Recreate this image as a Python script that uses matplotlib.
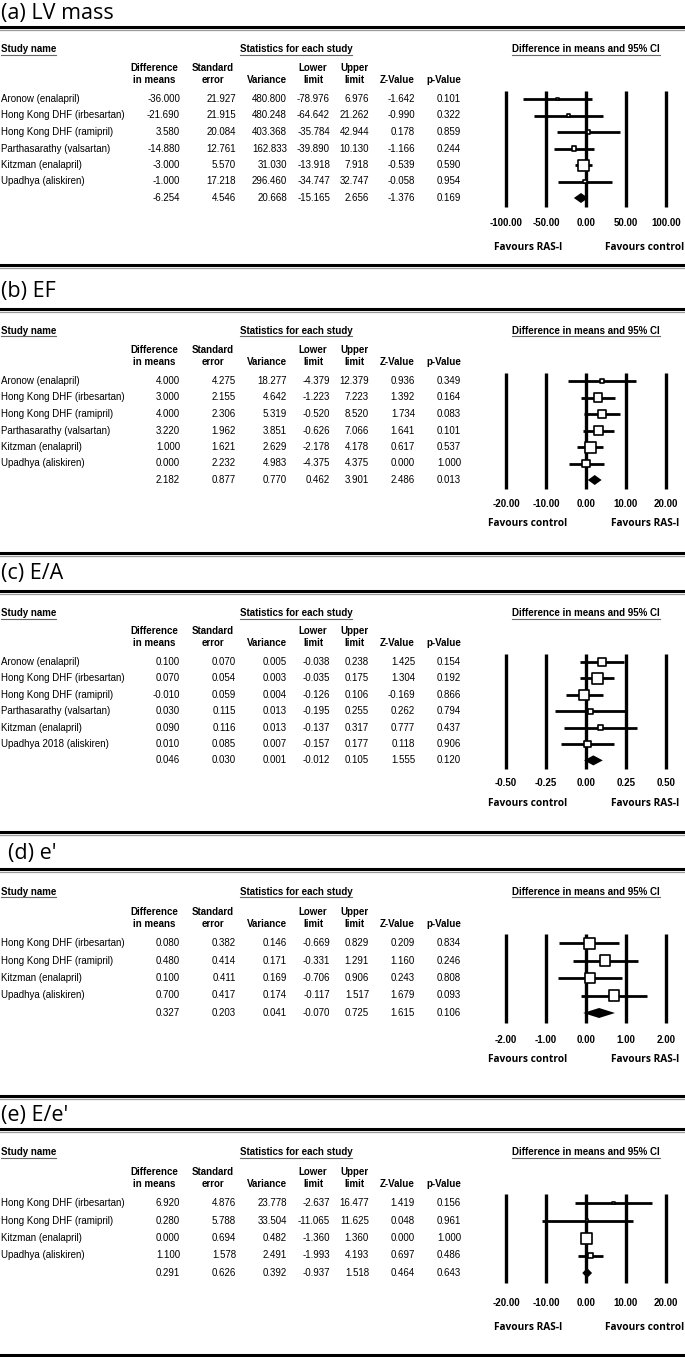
import matplotlib
matplotlib.use('Agg')
import matplotlib.pyplot as plt
from matplotlib.lines import Line2D
from matplotlib.transforms import blended_transform_factory

W, H = 685, 1357  # output size in pixels (dpi 100)

# ---- data -------------------------------------------------------------
# (a) LV mass  (last entry of each list = pooled estimate)
a_names = ['Aronow (enalapril)', 'Hong Kong DHF (irbesartan)', 'Hong Kong DHF (ramipril)',
           'Parthasarathy (valsartan)', 'Kitzman (enalapril)', 'Upadhya (aliskiren)', '']
a_diff = [-36.000, -21.690, 3.580, -14.880, -3.000, -1.000, -6.254]
a_se = [21.927, 21.915, 20.084, 12.761, 5.570, 17.218, 4.546]
a_var = [480.800, 480.248, 403.368, 162.833, 31.030, 296.460, 20.668]
a_lower = [-78.976, -64.642, -35.784, -39.890, -13.918, -34.747, -15.165]
a_upper = [6.976, 21.262, 42.944, 10.130, 7.918, 32.747, 2.656]
a_z = [-1.642, -0.990, 0.178, -1.166, -0.539, -0.058, -1.376]
a_p = [0.101, 0.322, 0.859, 0.244, 0.590, 0.954, 0.169]
a_ticks = [-100, -50, 0, 50, 100]
a_favours = ['Favours RAS-I', 'Favours control']

# (b) EF
b_names = ['Aronow (enalapril)', 'Hong Kong DHF (irbesartan)', 'Hong Kong DHF (ramipril)',
           'Parthasarathy (valsartan)', 'Kitzman (enalapril)', 'Upadhya (aliskiren)', '']
b_diff = [4.000, 3.000, 4.000, 3.220, 1.000, 0.000, 2.182]
b_se = [4.275, 2.155, 2.306, 1.962, 1.621, 2.232, 0.877]
b_var = [18.277, 4.642, 5.319, 3.851, 2.629, 4.983, 0.770]
b_lower = [-4.379, -1.223, -0.520, -0.626, -2.178, -4.375, 0.462]
b_upper = [12.379, 7.223, 8.520, 7.066, 4.178, 4.375, 3.901]
b_z = [0.936, 1.392, 1.734, 1.641, 0.617, 0.000, 2.486]
b_p = [0.349, 0.164, 0.083, 0.101, 0.537, 1.000, 0.013]
b_ticks = [-20, -10, 0, 10, 20]
b_favours = ['Favours control', 'Favours RAS-I']

# (c) E/A
c_names = ['Aronow (enalapril)', 'Hong Kong DHF (irbesartan)', 'Hong Kong DHF (ramipril)',
           'Parthasarathy (valsartan)', 'Kitzman (enalapril)', 'Upadhya 2018 (aliskiren)', '']
c_diff = [0.100, 0.070, -0.010, 0.030, 0.090, 0.010, 0.046]
c_se = [0.070, 0.054, 0.059, 0.115, 0.116, 0.085, 0.030]
c_var = [0.005, 0.003, 0.004, 0.013, 0.013, 0.007, 0.001]
c_lower = [-0.038, -0.035, -0.126, -0.195, -0.137, -0.157, -0.012]
c_upper = [0.238, 0.175, 0.106, 0.255, 0.317, 0.177, 0.105]
c_z = [1.425, 1.304, -0.169, 0.262, 0.777, 0.118, 1.555]
c_p = [0.154, 0.192, 0.866, 0.794, 0.437, 0.906, 0.120]
c_ticks = [-0.50, -0.25, 0.0, 0.25, 0.50]
c_favours = ['Favours control', 'Favours RAS-I']

# (d) e'
d_names = ['Hong Kong DHF (irbesartan)', 'Hong Kong DHF (ramipril)',
           'Kitzman (enalapril)', 'Upadhya (aliskiren)', '']
d_diff = [0.080, 0.480, 0.100, 0.700, 0.327]
d_se = [0.382, 0.414, 0.411, 0.417, 0.203]
d_var = [0.146, 0.171, 0.169, 0.174, 0.041]
d_lower = [-0.669, -0.331, -0.706, -0.117, -0.070]
d_upper = [0.829, 1.291, 0.906, 1.517, 0.725]
d_z = [0.209, 1.160, 0.243, 1.679, 1.615]
d_p = [0.834, 0.246, 0.808, 0.093, 0.106]
d_ticks = [-2, -1, 0, 1, 2]
d_favours = ['Favours control', 'Favours RAS-I']

# (e) E/e'
e_names = ['Hong Kong DHF (irbesartan)', 'Hong Kong DHF (ramipril)',
           'Kitzman (enalapril)', 'Upadhya (aliskiren)', '']
e_diff = [6.920, 0.280, 0.000, 1.100, 0.291]
e_se = [4.876, 5.788, 0.694, 1.578, 0.626]
e_var = [23.778, 33.504, 0.482, 2.491, 0.392]
e_lower = [-2.637, -11.065, -1.360, -1.993, -0.937]
e_upper = [16.477, 11.625, 1.360, 4.193, 1.518]
e_z = [1.419, 0.048, 0.000, 0.697, 0.464]
e_p = [0.156, 0.961, 1.000, 0.486, 0.643]
e_ticks = [-20, -10, 0, 10, 20]
e_favours = ['Favours RAS-I', 'Favours control']

titles = ['(a) LV mass', '(b) EF', '(c) E/A', "(d) e'", "(e) E/e'"]

panels = [
    (a_names, a_diff, a_se, a_var, a_lower, a_upper, a_z, a_p, a_ticks, a_favours),
    (b_names, b_diff, b_se, b_var, b_lower, b_upper, b_z, b_p, b_ticks, b_favours),
    (c_names, c_diff, c_se, c_var, c_lower, c_upper, c_z, c_p, c_ticks, c_favours),
    (d_names, d_diff, d_se, d_var, d_lower, d_upper, d_z, d_p, d_ticks, d_favours),
    (e_names, e_diff, e_se, e_var, e_lower, e_upper, e_z, e_p, e_ticks, e_favours),
]

# ---- layout (pixels from top) -------------------------------------------
# top rule, title y, title x, rule under title, first row, row step, tick y, favours y
layout = [
    (None, 13, 1, 27, 99, 16.5, 223, 248),
    (265, 291, 1, 309, 381, 16.5, 504, 524),
    (553, 574, 1, 591, 662, 16.4, 783, 803),
    (832, 853, 8, 869, 943, 17.5, 1040, 1060),
    (1096, 1116, 1, 1129, 1203, 17.5, 1303, 1328),
]
bottom_rule = 1355

num_right = [180, 236, 287, 330, 369, 415, 461]
head_center = [154, 213, 267, 313, 354, 397, 444]
head_top = ['Difference', 'Standard', '', 'Lower', 'Upper', '', '']
head_bot = ['in means', 'error', 'Variance', 'limit', 'limit', 'Z-Value', 'p-Value']

TABLE_FONT = 'Liberation Sans'
TITLE_FONT = 'Open Sans'
FS = 7.0
MAX_SIDE = 11.0        # largest square, px
X_CENTER, X_HALF = 586, 80   # zero line and half-range of forest plot, px


def fx(x):
    return x / W


def fy(y):
    return 1 - y / H


fig = plt.figure(figsize=(W / 100, H / 100), dpi=100)


def rule(y):
    fig.add_artist(Line2D([0, 1], [fy(y), fy(y)], color='black', lw=2.2))
    fig.add_artist(Line2D([0, 1], [fy(y + 2.6), fy(y + 2.6)], color='#9a9a9a', lw=0.9))


underlined = []

for (names, diff, se, var, lower, upper, z, p, ticks, favours), title, lay in zip(panels, titles, layout):
    top, ty, tx, line2, row0, step, tick_y, fav_y = lay
    if top is not None:
        rule(top)
    rule(line2)
    fig.text(fx(tx), fy(ty), title, family=TITLE_FONT, fontsize=15.5, va='center', ha='left')

    # table headers
    hy = line2 + 22 if line2 < 800 else line2 + 23
    underlined.append(fig.text(fx(1), fy(hy), 'Study name', family=TABLE_FONT, fontsize=FS,
                               weight='bold', va='center', ha='left'))
    underlined.append(fig.text(fx(296), fy(hy), 'Statistics for each study', family=TABLE_FONT,
                               fontsize=FS, weight='bold', va='center', ha='center'))
    underlined.append(fig.text(fx(X_CENTER), fy(hy), 'Difference in means and 95% CI',
                               family=TABLE_FONT, fontsize=FS, weight='bold', va='center', ha='center'))
    h1 = row0 - 31
    h2 = row0 - 19
    for xc, t1, t2 in zip(head_center, head_top, head_bot):
        if t1:
            fig.text(fx(xc), fy(h1), t1, family=TABLE_FONT, fontsize=FS, weight='bold',
                     va='center', ha='center')
        fig.text(fx(xc), fy(h2), t2, family=TABLE_FONT, fontsize=FS, weight='bold',
                 va='center', ha='center')

    # table rows
    for i, name in enumerate(names):
        ry = row0 + i * step
        fig.text(fx(1), fy(ry), name, family=TABLE_FONT, fontsize=FS, va='center', ha='left')
        vals = [diff[i], se[i], var[i], lower[i], upper[i], z[i], p[i]]
        for xr, v in zip(num_right, vals):
            fig.text(fx(xr), fy(ry), f'{v:.3f}', family=TABLE_FONT, fontsize=FS,
                     va='center', ha='right')

    # forest plot
    n = len(names) - 1
    L = ticks[-1]
    ax_top = row0 - step
    ax_bot = row0 + (n + 1) * step
    left_px, right_px = X_CENTER - 90, X_CENTER + 90
    ax = fig.add_axes([fx(left_px), fy(ax_bot), (right_px - left_px) / W, (ax_bot - ax_top) / H])
    ax.set_xlim(-L * 90 / X_HALF, L * 90 / X_HALF)
    ax.set_ylim(n + 1, -1)
    ax.axis('off')

    ax.vlines(ticks, -0.5, n + 0.55, color='black', lw=2.4, zorder=1)
    rows = list(range(n))
    ax.hlines(rows, lower[:n], upper[:n], color='black', lw=2.0, zorder=2)
    min_se = min(se[:n])
    sizes = [(max(MAX_SIDE * min_se / s, 2.5) * 0.72) ** 2 for s in se[:n]]
    ax.scatter(diff[:n], rows, s=sizes, marker='s', facecolor='white', edgecolor='black',
               linewidths=1.2, zorder=3)
    hh = 5.0 / step
    ax.fill([lower[n], diff[n], upper[n], diff[n]], [n, n - hh, n, n + hh],
            color='black', zorder=3, lw=0)

    tr = blended_transform_factory(ax.transData, fig.transFigure)
    for t in ticks:
        ax.text(t, fy(tick_y), f'{t:.2f}', transform=tr, family=TABLE_FONT, fontsize=FS,
                weight='bold', va='center', ha='center', clip_on=False)
    fig.text(fx(528), fy(fav_y), favours[0], family=TITLE_FONT, fontsize=7.3,
             weight='bold', va='center', ha='center')
    fig.text(fx(645), fy(fav_y), favours[1], family=TITLE_FONT, fontsize=7.3,
             weight='bold', va='center', ha='center')

rule(bottom_rule)

# underline the header labels
fig.canvas.draw()
r = fig.canvas.get_renderer()
for t in underlined:
    bb = t.get_window_extent(r)
    yy = (bb.y0 - 0.5) / H
    fig.add_artist(Line2D([bb.x0 / W, bb.x1 / W], [yy, yy], color='#666666', lw=0.8))

fig.savefig('out.png', dpi=100)
